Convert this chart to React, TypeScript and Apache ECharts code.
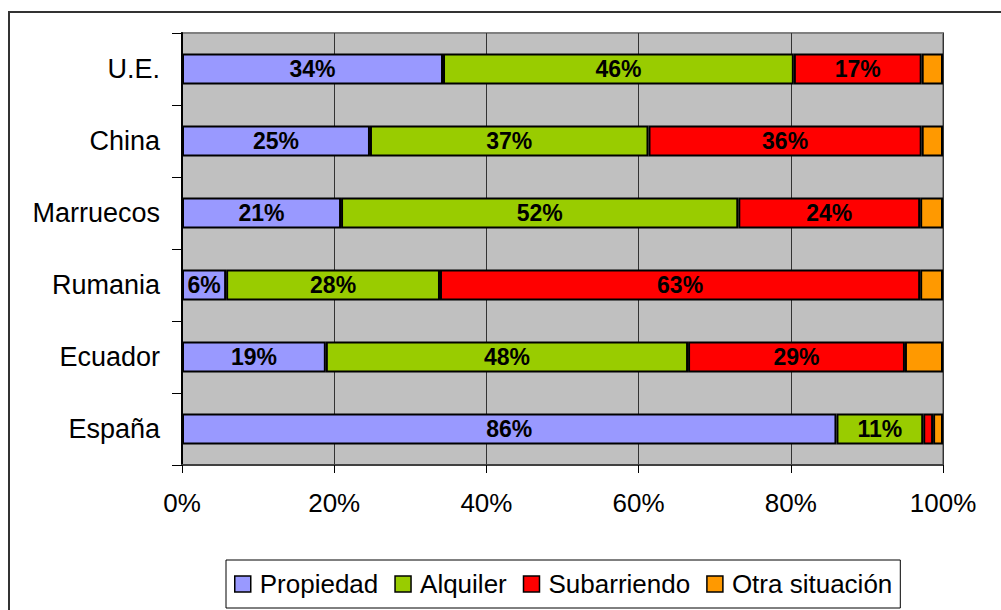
import React, { useEffect, useRef } from "react";
import * as echarts from "echarts";

const categories = ["U.E.", "China", "Marruecos", "Rumania", "Ecuador", "España"];
const propiedad = [34.3, 24.7, 20.9, 5.8, 18.9, 86.0];
const alquiler = [46.1, 36.6, 52.2, 28.1, 47.6, 11.4];
const subarriendo = [16.8, 35.9, 23.9, 63.1, 28.5, 1.3];
const otra = [2.8, 2.8, 3.0, 3.0, 5.0, 1.3];
const xTicks = [0, 20, 40, 60, 80, 100];

const seriesDefs = [
  { name: "Propiedad", data: propiedad, color: "#9999FF", label: true },
  { name: "Alquiler", data: alquiler, color: "#99CC00", label: true },
  { name: "Subarriendo", data: subarriendo, color: "#FF0000", label: true },
  { name: "Otra situación", data: otra, color: "#FF9900", label: false },
];

const FONT = "'Liberation Sans', Arial, sans-serif";

export default function App() {
  const ref = useRef<HTMLDivElement>(null);
  useEffect(() => {
    if (!ref.current) return;
    const chart = echarts.init(ref.current, null, { renderer: "svg" });
    chart.setOption({
      animation: false,
      backgroundColor: "#ffffff",
      textStyle: { fontFamily: FONT },
      graphic: [
        {
          type: "rect",
          shape: { x: 9, y: 12, width: 1000, height: 610 },
          style: { fill: "none", stroke: "#333333", lineWidth: 2 },
          silent: true,
        },
      ],
      grid: {
        left: 182,
        right: 58,
        top: 33,
        bottom: 145,
        show: true,
        backgroundColor: "#C0C0C0",
        borderColor: "#808080",
        borderWidth: 2,
        containLabel: false,
      },
      legend: {
        bottom: 2,
        left: 226,
        itemWidth: 16,
        itemHeight: 16,
        itemGap: 16,
        padding: [11, 8, 11, 8],
        borderColor: "#000000",
        borderWidth: 1,
        icon: "rect",
        textStyle: { fontSize: 26, color: "#000", fontFamily: FONT, padding: [0, 0, 0, 4] },
        data: seriesDefs.map((s) => ({
          name: s.name,
          itemStyle: { color: s.color, borderColor: "#000", borderWidth: 1.5 },
        })),
      },
      xAxis: {
        type: "value",
        min: 0,
        max: 100,
        interval: 20,
        axisLine: { show: true, lineStyle: { color: "#404040", width: 2 } },
        axisTick: { show: true, length: 8, lineStyle: { color: "#000", width: 1 } },
        splitLine: { show: true, lineStyle: { color: "#333333", width: 1 } },
        axisLabel: {
          fontSize: 26,
          color: "#000",
          margin: 25,
          fontFamily: FONT,
          formatter: (v: number) => (xTicks.includes(v) ? v + "%" : ""),
        },
      },
      yAxis: {
        type: "category",
        inverse: true,
        data: categories,
        axisLine: { show: true, lineStyle: { color: "#000", width: 2 } },
        axisTick: { show: true, length: 10, interval: 0, lineStyle: { color: "#000", width: 1 } },
        axisLabel: { fontSize: 27, color: "#000", margin: 22, fontFamily: FONT },
      },
      series: seriesDefs.map((s) => ({
        name: s.name,
        type: "bar",
        stack: "total",
        barWidth: 31,
        data: s.data,
        itemStyle: { color: s.color, borderColor: "#000", borderWidth: 2 },
        label: {
          show: s.label,
          position: "inside",
          fontSize: 23,
          fontWeight: "bold",
          color: "#000",
          fontFamily: FONT,
          formatter: (p: any) => (p.value >= 5 ? Math.round(p.value) + "%" : ""),
        },
      })),
    });
    return () => chart.dispose();
  }, []);
  return (
    <div
      ref={ref}
      style={{ position: "fixed", left: 0, top: 0, width: 1001, height: 610 }}
    />
  );
}
